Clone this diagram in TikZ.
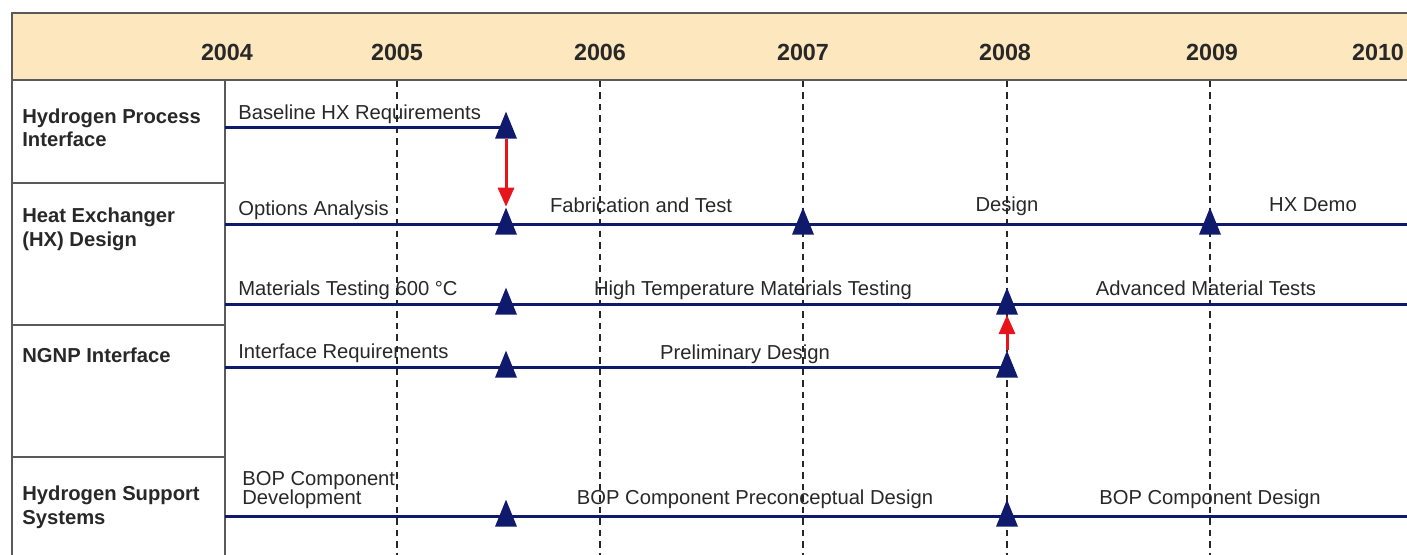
\documentclass[tikz,border=0pt]{standalone}
\usepackage{fontspec}
\setmainfont{Liberation Sans}
\usetikzlibrary{shapes.geometric,arrows.meta}

\definecolor{headtan}{RGB}{253,231,190}
\definecolor{navyline}{RGB}{16,26,108}
\definecolor{framegray}{RGB}{90,90,90}
\definecolor{inkgray}{RGB}{40,40,40}
\definecolor{arrred}{RGB}{232,20,27}

\tikzset{
  rowlabel/.style={anchor=base west, inner sep=0, align=left, text=inkgray,
    font=\bfseries\fontsize{11.5}{13.6}\selectfont},
  yearlabel/.style={anchor=base, inner sep=0, text=inkgray,
    font=\bfseries\fontsize{13.3}{15}\selectfont},
  tasklabel/.style={anchor=base west, inner sep=0, align=left, text=inkgray,
    font=\fontsize{11.5}{10.8}\selectfont},
  midlabel/.style={tasklabel, anchor=base},
  track/.style={navyline, line width=0.6mm},
  yearline/.style={black!85, line width=0.4mm, dash pattern=on 1.3mm off 1mm},
  milestone/.style={isosceles triangle, isosceles triangle stretches,
    shape border rotate=90, fill=navyline, inner sep=0,
    minimum width=4.4mm, minimum height=5.4mm, anchor=lower side},
  redarrow/.style={arrred, line width=0.6mm, -{Triangle[length=3.8mm,width=3.2mm]}}
}

\begin{document}
\begin{tikzpicture}[x=0.2mm, y=-0.2mm]
    \useasboundingbox (0,0) rectangle (1407,555);
    \clip (0,0) rectangle (1407,555);

    % header band
    \draw[framegray, line width=0.55mm, fill=headtan] (12,13) rectangle (1430,80);
    \node[yearlabel] (y2004) at (227,61) {2004};
    \node[yearlabel] (y2005) at (397,61) {2005};
    \node[yearlabel] (y2006) at (600,61) {2006};
    \node[yearlabel] (y2007) at (803,61) {2007};
    \node[yearlabel] (y2008) at (1005,61) {2008};
    \node[yearlabel] (y2009) at (1212,61) {2009};
    \node[yearlabel] (y2010) at (1378,61) {2010};

    % year grid
    \foreach \yx in {397,600,803,1007,1210}
        \draw[yearline] (\yx,81) -- (\yx,560);

    % left column
    \draw[framegray, line width=0.45mm] (12,80) -- (12,560);
    \draw[framegray, line width=0.45mm] (225,80) -- (225,560);
    \foreach \ry in {183,325,457}
        \draw[framegray, line width=0.45mm] (12,\ry) -- (225,\ry);

    % (base anchor of a two-line label sits on its last line)
    \node[rowlabel] (hpi) at (22,147) {Hydrogen Process\\Interface};
    \node[rowlabel] (hxd) at (22,246) {Heat Exchanger\\(HX) Design};
    \node[rowlabel] (ngnp) at (22,362) {NGNP Interface};
    \node[rowlabel] (hss) at (22,524) {Hydrogen Support\\Systems};

    % tracks
    \draw[track] (225,128) -- (506,128);
    \draw[track] (225,224) -- (1420,224);
    \draw[track] (225,304) -- (1420,304);
    \draw[track] (225,367) -- (1007,367);
    \draw[track] (225,516) -- (1420,516);

    % milestones
    \node[milestone] (hpi1) at (506,139) {};
    \node[milestone] (hx1) at (506,235) {};
    \node[milestone] (hx2) at (803,235) {};
    \node[milestone] (hx3) at (1210,235) {};
    \node[milestone] (mat1) at (506,315) {};
    \node[milestone] (mat2) at (1007,315) {};
    \node[milestone] (ngnp1) at (506,378) {};
    \node[milestone] (ngnp2) at (1007,378) {};
    \node[milestone] (bop1) at (506,527) {};
    \node[milestone] (bop2) at (1007,527) {};

    % task labels
    \node[tasklabel] (t11) at (238,120) {Baseline HX Requirements};
    \node[tasklabel] (t21) at (238,216) {Options Analysis};
    \node[midlabel] (t22) at (641,212) {Fabrication and Test};
    \node[midlabel] (t23) at (1007,211) {Design};
    \node[midlabel] (t24) at (1313,211) {HX Demo};
    \node[tasklabel] (t31) at (238,296) {Materials Testing 600 \textdegree C};
    \node[midlabel] (t32) at (753,296) {High Temperature Materials Testing};
    \node[midlabel] (t33) at (1206,296) {Advanced Material Tests};
    \node[tasklabel] (t41) at (238,358) {Interface Requirements};
    \node[midlabel] (t42) at (745,359) {Preliminary Design};
    \node[tasklabel] (t51) at (242,504) {BOP Component\\Development};
    \node[midlabel] (t52) at (755,504) {BOP Component Preconceptual Design};
    \node[midlabel] (t53) at (1210,504) {BOP Component Design};

    % dependencies
    \draw[redarrow] (hpi1.lower side) -- (hx1.apex);
    \draw[redarrow] (ngnp2.apex) -- (mat2.lower side);
\end{tikzpicture}
\end{document}
